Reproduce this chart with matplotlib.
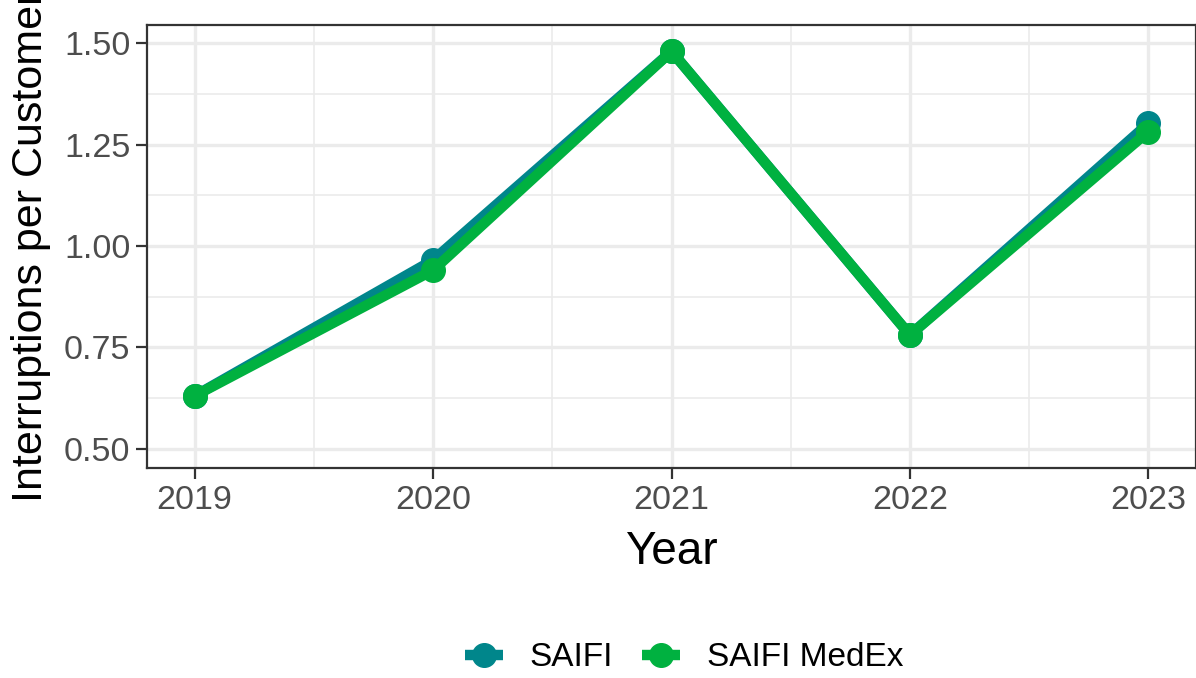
import numpy as np
import matplotlib.pyplot as plt
from matplotlib.ticker import MultipleLocator

plt.rcParams['font.family'] = ['Liberation Sans', 'DejaVu Sans']

# SAIFI values
years = [2019, 2020, 2021, 2022, 2023]
saifi = [0.63, 0.965, 1.48, 0.78, 1.302]
saifi_medex = [0.63, 0.94, 1.48, 0.78, 1.282]
series_names = ['SAIFI', 'SAIFI MedEx']
series_colors = ['#00868B', '#00B140']

fig = plt.figure(figsize=(11.96, 6.78), dpi=100)
ax = fig.add_axes([147 / 1196, 1 - 468 / 678, 1049 / 1196, 443 / 678])

for vals, name, col in zip([saifi, saifi_medex], series_names, series_colors):
    ax.plot(years, vals, color=col, lw=7.5, marker='o', markersize=17,
            solid_capstyle='butt', label=name, zorder=3)

ax.set_xlim(2018.8, 2023.2)
ax.set_ylim(0.452, 1.545)
ax.set_xticks(years)
ax.set_yticks([0.5, 0.75, 1.0, 1.25, 1.5])
ax.set_yticklabels(['0.50', '0.75', '1.00', '1.25', '1.50'])
ax.xaxis.set_minor_locator(MultipleLocator(0.5))
ax.yaxis.set_minor_locator(MultipleLocator(0.125))

ax.grid(which='major', color='#EBEBEB', lw=2.4, zorder=0)
ax.grid(which='minor', color='#EBEBEB', lw=1.2, zorder=0)
ax.set_axisbelow(True)
for s in ax.spines.values():
    s.set_color('#333333')
    s.set_linewidth(1.6)

ax.tick_params(which='major', length=8, width=1.6, color='#333333',
               labelsize=24.5, labelcolor='#4D4D4D', pad=4)
ax.tick_params(which='minor', length=0)

ax.set_xlabel('Year', fontsize=33, color='black', labelpad=10)
ax.set_ylabel('Interruptions per Customer', fontsize=31, color='black', labelpad=9)

leg = fig.legend(loc='center', bbox_to_anchor=(684 / 1196, 20 / 678), ncol=2,
                 frameon=False, fontsize=24, handlelength=1.15, handletextpad=0.8,
                 columnspacing=0.85, markerscale=1.0)

fig.savefig('out.png', dpi=100)
